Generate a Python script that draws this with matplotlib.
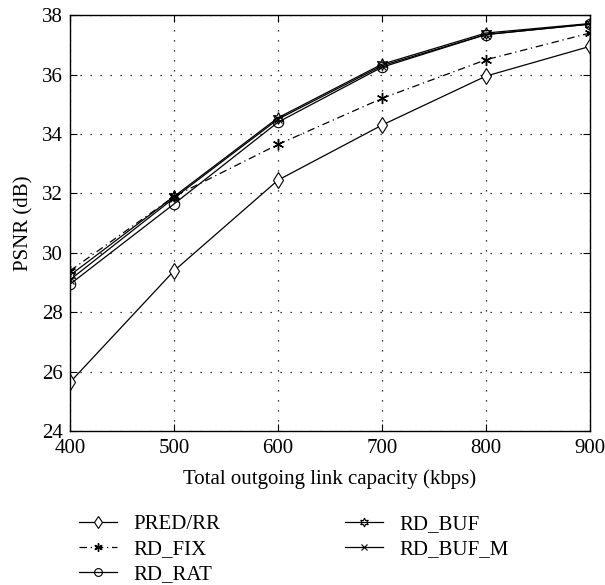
import numpy as np
import matplotlib
matplotlib.use('Agg')
import matplotlib.pyplot as plt

plt.rcParams['font.family'] = ['Liberation Serif', 'DejaVu Serif']

# link capacity (kbps)
capacity = [400, 500, 600, 700, 800, 900]
# PSNR (dB) per scheme
pred_rr = [25.65, 29.4, 32.45, 34.3, 35.95, 36.95]
rd_fix = [29.4, 31.9, 33.65, 35.2, 36.5, 37.4]
rd_rat = [28.95, 31.65, 34.4, 36.25, 37.35, 37.7]
rd_buf = [29.25, 31.9, 34.55, 36.35, 37.4, 37.72]
rd_buf_m = [29.1, 31.85, 34.5, 36.3, 37.35, 37.7]

fig = plt.figure(figsize=(6.05, 5.85), dpi=100)
ax = fig.add_axes([0.116, 0.263, 0.859, 0.711])

lw = 0.9
ax.plot(capacity, pred_rr, color='k', lw=lw, marker='d', ms=8, mfc='white', mec='k', mew=0.8, label='PRED/RR')
ax.plot(capacity, rd_fix, color='k', lw=lw, ls=(0, (6, 3, 1, 3)), marker=(6, 2, 0), ms=8, mec='k', mew=1.0, label='RD_FIX')
ax.plot(capacity, rd_rat, color='k', lw=lw, marker='o', ms=7.5, mfc='none', mec='k', mew=0.8, label='RD_RAT')
ax.plot(capacity, rd_buf, color='k', lw=lw, marker=(6, 1, 0), ms=8.5, mfc='none', mec='k', mew=0.8, label='RD_BUF')
ax.plot(capacity, rd_buf_m, color='k', lw=lw, marker='x', ms=6, mec='k', mew=0.8, label='RD_BUF_M')

ax.set_xlim(400, 900)
ax.set_ylim(24, 38)
ax.set_xticks(capacity)
ax.set_yticks(np.arange(24, 39, 2))
ax.grid(True, color='k', ls=(0, (1, 7)), lw=0.9)
ax.tick_params(direction='in', labelsize=15, length=5, top=True, right=True)
ax.tick_params(axis='x', pad=6)
ax.tick_params(axis='y', pad=5)
for s in ax.spines.values():
    s.set_linewidth(1.0)

ax.set_xlabel('Total outgoing link capacity (kbps)', fontsize=15, labelpad=8)
ax.set_ylabel('PSNR (dB)', fontsize=15, labelpad=6)

handles, labels = ax.get_legend_handles_labels()
fig.legend(handles, labels, loc='upper left', bbox_to_anchor=(0.1, 0.152), ncol=2,
           frameon=False, fontsize=15, handlelength=1.8, columnspacing=6.0,
           labelspacing=0.25, handletextpad=0.8, markerscale=0.75)

fig.savefig('out.png', dpi=100)
